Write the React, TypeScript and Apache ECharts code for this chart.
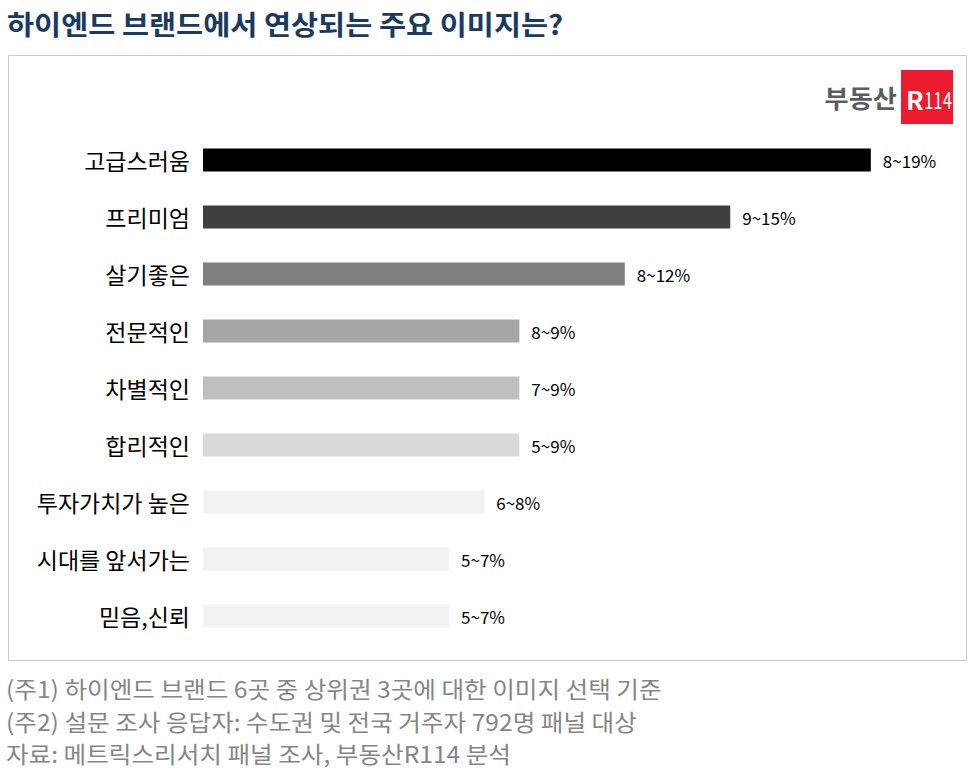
import React, { useEffect, useRef } from "react";
import * as echarts from "echarts";

const categories = ["고급스러움", "프리미엄", "살기좋은", "전문적인", "차별적인", "합리적인", "투자가치가 높은", "시대를 앞서가는", "믿음,신뢰"];
const lowValues = [8, 9, 8, 8, 7, 5, 6, 5, 5];
const highValues = [19, 15, 12, 9, 9, 9, 8, 7, 7];
const barColors = ["#000000", "#404040", "#7f7f7f", "#a6a6a6", "#bfbfbf", "#d9d9d9", "#f2f2f2", "#f2f2f2", "#f2f2f2"];
const titleText = "하이엔드 브랜드에서 연상되는 주요 이미지는?";
const notes = [
  "(주1) 하이엔드 브랜드 6곳 중 상위권 3곳에 대한 이미지 선택 기준",
  "(주2) 설문 조사 응답자: 수도권 및 전국 거주자 792명 패널 대상",
  "자료: 메트릭스리서치 패널 조사, 부동산R114 분석",
];

const FONT = "'Noto Sans CJK KR', 'Noto Sans', sans-serif";

export default function App() {
  const ref = useRef<HTMLDivElement>(null);
  useEffect(() => {
    document.body.style.margin = "0";
    const chart = echarts.init(ref.current!, null, { renderer: "svg" });
    chart.setOption({
      animation: false,
      backgroundColor: "#ffffff",
      grid: { left: 203, width: 703, top: 131.5, height: 513, containLabel: false },
      xAxis: { type: "value", min: 0, max: 20, show: false, splitLine: { show: false } },
      yAxis: {
        type: "category",
        inverse: true,
        data: categories,
        axisLine: { show: false },
        axisTick: { show: false },
        axisLabel: { fontFamily: FONT, fontSize: 23, color: "#000000", margin: 13 },
      },
      series: [
        {
          type: "bar",
          barWidth: 23,
          data: highValues.map((v, i) => ({ value: v, itemStyle: { color: barColors[i] } })),
          label: {
            show: true,
            position: "right",
            distance: 12,
            fontFamily: FONT,
            fontSize: 17,
            color: "#000000",
            formatter: (p: any) => `${lowValues[p.dataIndex]}~${highValues[p.dataIndex]}%`,
          },
        },
      ],
      graphic: [
        {
          type: "text",
          x: 7,
          y: 23,
          scaleX: 1.09,
          style: {
            text: titleText,
            fontFamily: FONT,
            fontSize: 27,
            fontWeight: "bold",
            fill: "#1b3a63",
            textAlign: "left",
            textVerticalAlign: "middle",
          },
        },
        {
          type: "rect",
          shape: { x: 8.5, y: 55.5, width: 958, height: 605 },
          style: { fill: "none", stroke: "#c8c8c8", lineWidth: 1 },
          silent: true,
        },
        {
          type: "text",
          x: 897,
          y: 97,
          scaleX: 1.05,
          style: {
            text: "부동산",
            fontFamily: FONT,
            fontSize: 25,
            fontWeight: "bold",
            fill: "#5c5c5c",
            textAlign: "right",
            textVerticalAlign: "middle",
          },
        },
        {
          type: "rect",
          shape: { x: 901, y: 70, width: 52, height: 54 },
          style: { fill: "#ec1c2e" },
        },
        {
          type: "text",
          x: 906,
          y: 98,
          style: {
            text: "R",
            fontFamily: FONT,
            fontSize: 26,
            fontWeight: "bold",
            fill: "#ffffff",
            textAlign: "left",
            textVerticalAlign: "middle",
          },
        },
        {
          type: "text",
          x: 924,
          y: 99,
          scaleX: 0.7,
          style: {
            text: "114",
            fontFamily: FONT,
            fontSize: 24,
            fill: "#ffffff",
            textAlign: "left",
            textVerticalAlign: "middle",
          },
        },
        ...notes.map((t, i) => ({
          type: "text",
          x: 6,
          y: 688 + i * 32.5,
          scaleX: 1.07,
          style: {
            text: t,
            fontFamily: FONT,
            fontSize: 23,
            fill: "#858585",
            textAlign: "left",
            textVerticalAlign: "middle",
          },
        })),
      ],
    });
    return () => chart.dispose();
  }, []);
  return <div ref={ref} style={{ width: 973, height: 775 }} />;
}
